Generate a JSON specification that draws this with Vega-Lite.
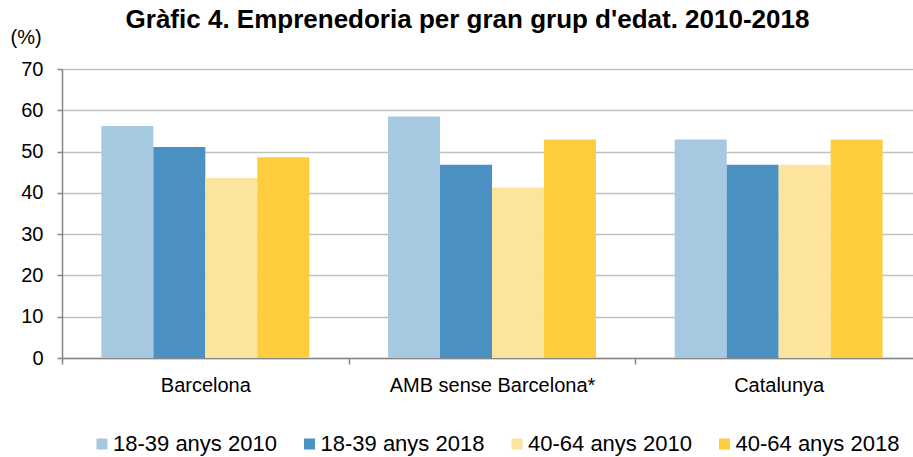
{
  "$schema": "https://vega.github.io/schema/vega-lite/v6.json",
  "width": 851,
  "height": 289,
  "autosize": {"type": "none"},
  "padding": {"left": 62, "top": 69, "right": 0, "bottom": 99},
  "background": "white",
  "title": {
    "text": "Gràfic 4. Emprenedoria per gran grup d'edat. 2010-2018",
    "font": "Liberation Sans",
    "fontSize": 26,
    "fontWeight": "bold",
    "color": "#000000",
    "anchor": "middle",
    "frame": "group",
    "dx": -20,
    "offset": -6
  },
  "data": {
    "values": [
      {"territori": "Barcelona", "grup": "18-39 anys 2010", "valor": 56.2},
      {"territori": "Barcelona", "grup": "18-39 anys 2018", "valor": 51.1},
      {"territori": "Barcelona", "grup": "40-64 anys 2010", "valor": 43.6},
      {"territori": "Barcelona", "grup": "40-64 anys 2018", "valor": 48.6},
      {"territori": "AMB sense Barcelona*", "grup": "18-39 anys 2010", "valor": 58.5},
      {"territori": "AMB sense Barcelona*", "grup": "18-39 anys 2018", "valor": 46.8},
      {"territori": "AMB sense Barcelona*", "grup": "40-64 anys 2010", "valor": 41.3},
      {"territori": "AMB sense Barcelona*", "grup": "40-64 anys 2018", "valor": 52.9},
      {"territori": "Catalunya", "grup": "18-39 anys 2010", "valor": 52.9},
      {"territori": "Catalunya", "grup": "18-39 anys 2018", "valor": 46.8},
      {"territori": "Catalunya", "grup": "40-64 anys 2010", "valor": 46.8},
      {"territori": "Catalunya", "grup": "40-64 anys 2018", "valor": 52.9}
    ]
  },
  "mark": {"type": "bar"},
  "encoding": {
    "x": {
      "field": "territori",
      "type": "nominal",
      "sort": ["Barcelona", "AMB sense Barcelona*", "Catalunya"],
      "scale": {"range": [0, 860], "paddingInner": 0, "paddingOuter": 0},
      "axis": {
        "title": null,
        "domainColor": "#868686",
        "domainWidth": 1.5,
        "tickColor": "#868686",
        "tickWidth": 1.5,
        "tickSize": 6,
        "tickBand": "extent",
        "labelFontSize": 20,
        "labelColor": "#000000",
        "labelBaseline": "alphabetic",
        "labelPadding": 27,
        "labelAngle": 0,
        "labelLimit": 400,
        "grid": false
      }
    },
    "xOffset": {
      "field": "grup",
      "type": "nominal",
      "sort": ["18-39 anys 2010", "18-39 anys 2018", "40-64 anys 2010", "40-64 anys 2018"],
      "scale": {"paddingInner": 0, "paddingOuter": 0.758}
    },
    "y": {
      "field": "valor",
      "type": "quantitative",
      "scale": {"domain": [0, 70]},
      "axis": {
        "title": "(%)",
        "titleAngle": 0,
        "titleX": -52,
        "titleY": -26,
        "titleAlign": "left",
        "titleBaseline": "alphabetic",
        "titleFontSize": 20,
        "titleFontWeight": "normal",
        "titleColor": "#000000",
        "values": [0, 10, 20, 30, 40, 50, 60, 70],
        "labelFontSize": 20,
        "labelColor": "#000000",
        "labelPadding": 14,
        "tickSize": 5,
        "tickColor": "#868686",
        "tickWidth": 1.5,
        "domainColor": "#868686",
        "domainWidth": 1.5,
        "gridColor": "#c0c0c0",
        "gridWidth": 1.5
      }
    },
    "color": {
      "field": "grup",
      "type": "nominal",
      "scale": {
        "domain": ["18-39 anys 2010", "18-39 anys 2018", "40-64 anys 2010", "40-64 anys 2018"],
        "range": ["#a6c8e0", "#4a90c2", "#fde49c", "#fecd3d"]
      },
      "legend": {
        "title": null,
        "orient": "none",
        "direction": "horizontal",
        "legendX": 29,
        "legendY": 364,
        "symbolType": "square",
        "symbolSize": 121,
        "symbolStrokeWidth": 0,
        "symbolOpacity": 1,
        "labelFontSize": 22,
        "labelColor": "#000000",
        "labelOffset": 0,
        "labelLimit": 300,
        "columnPadding": 21.5,
        "padding": 0
      }
    }
  },
  "config": {
    "view": {"stroke": null},
    "font": "Liberation Sans"
  }
}
